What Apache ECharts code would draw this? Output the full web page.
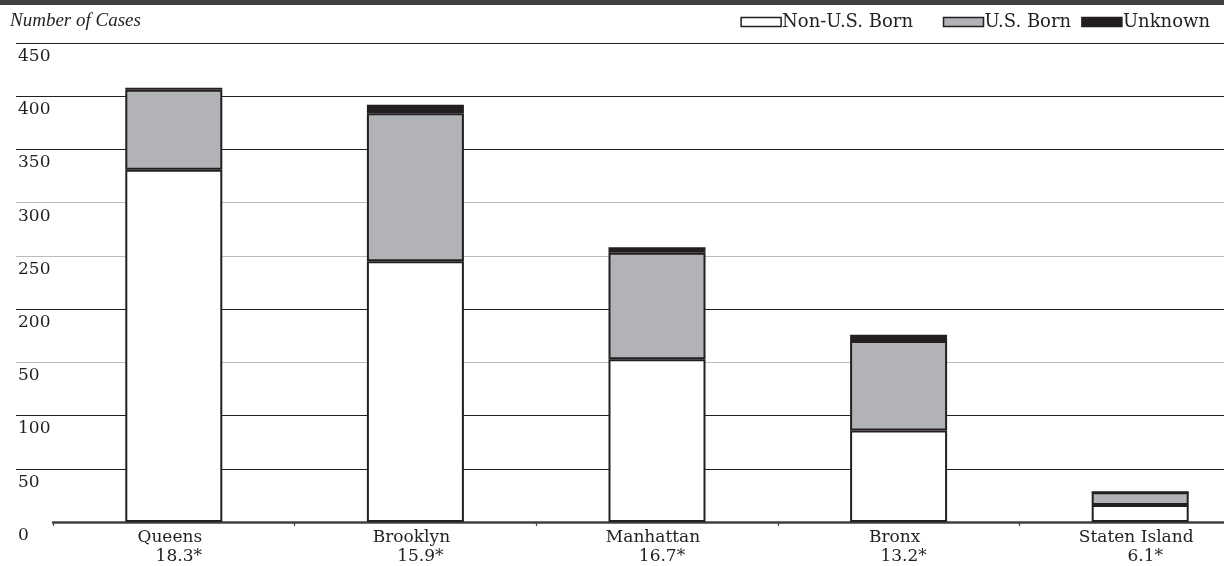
<!DOCTYPE html>
<html>
<head>
<meta charset="utf-8">
<script src="https://cdn.jsdelivr.net/npm/echarts@6/dist/echarts.min.js"></script>
<style>
html,body{margin:0;padding:0;background:#fff;}
#main{width:1224px;height:566px;}
</style>
</head>
<body>
<div id="main"></div>
<script>
// ---- data ----
const categories = ['Queens', 'Brooklyn', 'Manhattan', 'Bronx', 'Staten Island'];
const rates = ['18.3*', '15.9*', '16.7*', '13.2*', '6.1*'];
const nonUSBorn = [331, 245, 153, 86, 16];
const usBorn = [75, 139, 100, 84, 12];
const unknown = [2, 8, 5, 6, 0];
const yTickValues = [0, 50, 100, 150, 200, 250, 300, 350, 400, 450];
const yTickLabels = ['0', '50', '100', '50', '200', '250', '300', '350', '400', '450'];
const seriesNames = ['Non-U.S. Born', 'U.S. Born', 'Unknown'];

const INK = '#231f20';
const GRAY_FILL = '#b2b3b6';
const GRID_GRAY = '#bcbcbc';
const SERIF = '"DejaVu Serif", serif';

// grid line colours per tick (0 .. 450)
const gridColors = ['rgba(0,0,0,0)', INK, INK, GRID_GRAY, INK, GRID_GRAY, GRID_GRAY, INK, INK, INK];

const chart = echarts.init(document.getElementById('main'), null, {renderer: 'canvas'});

function barSeries(name, data, fill) {
  return {
    name: name,
    type: 'bar',
    stack: 'total',
    xAxisIndex: 1,
    yAxisIndex: 1,
    barWidth: 97,
    z: 3,
    data: data,
    itemStyle: {color: fill, borderColor: INK, borderWidth: 2},
    emphasis: {disabled: true}
  };
}

const legendCommon = {
  top: 8,
  itemWidth: 40,
  itemHeight: 9,
  icon: 'rect',
  itemStyle: {borderColor: INK, borderWidth: 1.5},
  textStyle: {fontFamily: SERIF, fontSize: 18, color: INK, padding: [0, 0, 0, -4]},
  selectedMode: false
};

const option = {
  animation: false,
  backgroundColor: '#fff',
  title: {
    text: 'Number of Cases',
    left: 5,
    top: 6,
    textStyle: {fontFamily: '"Liberation Serif", serif', fontStyle: 'italic', fontWeight: 'normal', fontSize: 19, color: INK}
  },
  legend: [
    Object.assign({}, legendCommon, {right: 306, data: [seriesNames[0]]}),
    Object.assign({}, legendCommon, {right: 9, itemGap: 10, data: [seriesNames[1], seriesNames[2]]})
  ],
  graphic: [{
    type: 'rect',
    left: 0, top: 0,
    shape: {width: 1224, height: 5},
    style: {fill: '#414042'},
    z: 10
  }],
  grid: [
    {left: 16, right: 0, top: 43, bottom: 44, outerBoundsMode: 'none', containLabel: false},
    {left: 53, right: -37, top: 43, bottom: 44, outerBoundsMode: 'none', containLabel: false}
  ],
  xAxis: [
    {gridIndex: 0, type: 'value', show: false, min: 0, max: 1},
    {
      gridIndex: 1,
      type: 'category',
      data: categories,
      axisLine: {show: true, lineStyle: {color: '#414042', width: 2.5}},
      axisTick: {show: true, length: 4, lineStyle: {color: '#414042', width: 1.2}},
      axisLabel: {
        interval: 0,
        margin: 6,
        color: INK,
        fontFamily: SERIF,
        fontSize: 17,
        formatter: function (v, i) { return '{a|' + v + '}\n{b|' + rates[i] + '}'; },
        rich: {
          a: {fontFamily: SERIF, fontSize: 17, color: INK, lineHeight: 19, padding: [0, 8, 0, 0]},
          b: {fontFamily: SERIF, fontSize: 17, color: INK, lineHeight: 19, padding: [0, 0, 0, 10]}
        }
      },
      splitLine: {show: false}
    }
  ],
  yAxis: [
    {
      gridIndex: 0,
      type: 'value',
      min: yTickValues[0],
      max: yTickValues[yTickValues.length - 1],
      interval: 50,
      axisLine: {show: false},
      axisTick: {show: false},
      axisLabel: {
        inside: true,
        margin: 2,
        verticalAlign: 'top',
        padding: [5, 0, 0, 0],
        color: INK,
        fontFamily: SERIF,
        fontSize: 17,
        formatter: function (v) {
          const i = yTickValues.indexOf(v);
          return i >= 0 ? yTickLabels[i] : '';
        }
      },
      splitLine: {show: true, lineStyle: {color: gridColors, width: 1}}
    },
    {
      gridIndex: 1,
      type: 'value',
      min: yTickValues[0],
      max: yTickValues[yTickValues.length - 1],
      interval: 50,
      show: false,
      splitLine: {show: false}
    }
  ],
  series: [
    {type: 'scatter', xAxisIndex: 0, yAxisIndex: 0, data: [], silent: true},
    barSeries(seriesNames[0], nonUSBorn, '#ffffff'),
    barSeries(seriesNames[1], usBorn, GRAY_FILL),
    barSeries(seriesNames[2], unknown, INK)
  ]
};

chart.setOption(option);
</script>
</body>
</html>
